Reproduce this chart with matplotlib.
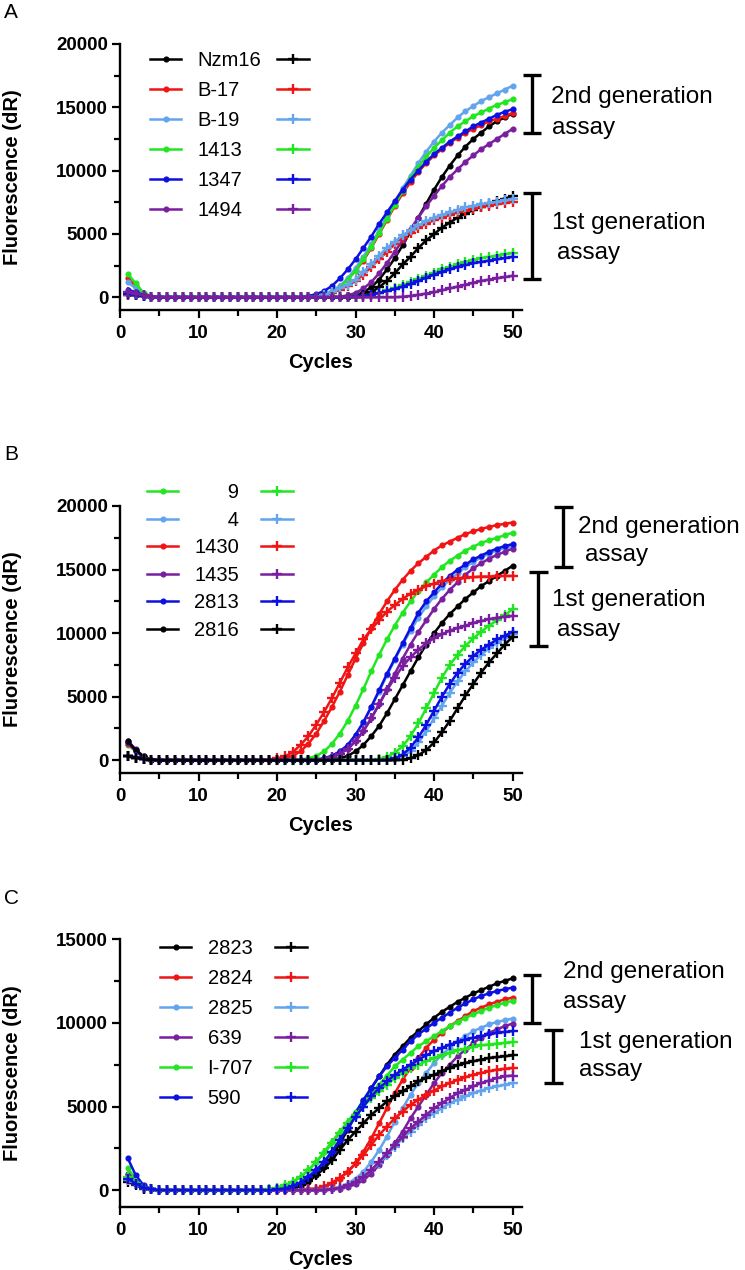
import matplotlib
matplotlib.use('Agg')
import matplotlib.pyplot as plt
from matplotlib.lines import Line2D

plt.rcParams['font.family'] = ['Liberation Sans', 'DejaVu Sans']

BLACK = '#000000'
RED = '#f01414'
LBLUE = '#62a4ee'
GREEN = '#22e622'
BLUE = '#0c10e0'
PURPLE = '#7a1ea0'

cycles = list(range(1, 51))

# ---------------- panel A ----------------
a_labels = ['Nzm16', 'B-17', 'B-19', '1413', '1347', '1494']
a_colors = [BLACK, RED, LBLUE, GREEN, BLUE, PURPLE]

# 2nd generation assay (dots)
a_nzm16_2nd = [300, 200, 100, 50, 0, 0, 0, 0, 0, 0,
               0, 0, 0, 0, 0, 0, 0, 0, 0, 0,
               0, 0, 0, 0, 0, 0, 0, 0, 50, 150,
               400, 800, 1400, 2200, 3100, 4100, 5200, 6300, 7400, 8500,
               9500, 10400, 11200, 11900, 12500, 13000, 13500, 13900, 14200, 14500]
a_b17_2nd = [1500, 900, 300, 50, 0, 0, 0, 0, 0, 0,
             0, 0, 0, 0, 0, 0, 0, 0, 0, 0,
             0, 0, 0, 0, 50, 150, 400, 800, 1400, 2100,
             2900, 3900, 5000, 6100, 7200, 8200, 9100, 9900, 10600, 11200,
             11700, 12200, 12600, 13000, 13300, 13600, 13900, 14100, 14300, 14550]
a_b19_2nd = [1200, 700, 250, 50, 0, 0, 0, 0, 0, 0,
             0, 0, 0, 0, 0, 0, 0, 0, 0, 0,
             0, 0, 0, 0, 100, 250, 500, 900, 1500, 2300,
             3200, 4200, 5300, 6400, 7500, 8600, 9600, 10600, 11500, 12300,
             13000, 13600, 14200, 14700, 15100, 15500, 15800, 16100, 16400, 16700]
a_1413_2nd = [1850, 1100, 350, 50, 0, 0, 0, 0, 0, 0,
              0, 0, 0, 0, 0, 0, 0, 0, 0, 0,
              0, 0, 0, 0, 50, 150, 400, 800, 1400, 2100,
              3000, 4000, 5100, 6200, 7300, 8400, 9400, 10300, 11100, 11800,
              12400, 13000, 13500, 13900, 14300, 14600, 14900, 15200, 15400, 15650]
a_1347_2nd = [600, 400, 200, 50, 0, 0, 0, 0, 0, 0,
              0, 0, 0, 0, 0, 0, 0, 0, 0, 0,
              0, 0, 0, 100, 250, 500, 900, 1500, 2200, 3000,
              3900, 4800, 5800, 6700, 7600, 8500, 9300, 10000, 10700, 11300,
              11800, 12300, 12700, 13100, 13500, 13800, 14100, 14400, 14650, 14850]
a_1494_2nd = [400, 250, 100, 50, 0, 0, 0, 0, 0, 0,
              0, 0, 0, 0, 0, 0, 0, 0, 0, 0,
              0, 0, 0, 0, 0, 0, 0, 50, 150, 350,
              700, 1200, 1900, 2700, 3600, 4500, 5400, 6300, 7200, 8000,
              8800, 9500, 10100, 10700, 11200, 11700, 12100, 12500, 12900, 13300]

# 1st generation assay (crosses)
a_nzm16_1st = [200, 150, 100, 50, 0, 0, 0, 0, 0, 0,
               0, 0, 0, 0, 0, 0, 0, 0, 0, 0,
               0, 0, 0, 0, 0, 0, 0, 0, 0, 50,
               150, 400, 800, 1300, 1900, 2600, 3200, 3900, 4500, 5000,
               5500, 5900, 6300, 6600, 6900, 7150, 7400, 7600, 7800, 8000]
a_b17_1st = [200, 150, 100, 50, 0, 0, 0, 0, 0, 0,
             0, 0, 0, 0, 0, 0, 0, 0, 0, 0,
             0, 0, 0, 0, 0, 150, 350, 600, 900, 1300,
             1800, 2400, 3000, 3600, 4200, 4700, 5100, 5500, 5800, 6100,
             6300, 6500, 6700, 6850, 7000, 7150, 7250, 7350, 7450, 7550]
a_b19_1st = [250, 150, 100, 50, 0, 0, 0, 0, 0, 0,
             0, 0, 0, 0, 0, 0, 0, 0, 0, 0,
             0, 0, 0, 0, 0, 200, 400, 700, 1000, 1400,
             2000, 2600, 3300, 3900, 4400, 4900, 5300, 5700, 6000, 6300,
             6500, 6700, 6900, 7100, 7200, 7350, 7450, 7550, 7650, 7750]
a_1413_1st = [300, 200, 100, 50, 0, 0, 0, 0, 0, 0,
              0, 0, 0, 0, 0, 0, 0, 0, 0, 0,
              0, 0, 0, 0, 0, 0, 0, 0, 0, 50,
              100, 200, 350, 550, 750, 950, 1200, 1450, 1700, 1950,
              2200, 2400, 2600, 2800, 2950, 3100, 3200, 3300, 3400, 3500]
a_1347_1st = [250, 150, 100, 50, 0, 0, 0, 0, 0, 0,
              0, 0, 0, 0, 0, 0, 0, 0, 0, 0,
              0, 0, 0, 0, 0, 0, 0, 0, 0, 50,
              100, 200, 350, 500, 650, 850, 1050, 1300, 1550, 1800,
              2000, 2200, 2400, 2550, 2700, 2800, 2900, 3000, 3100, 3200]
a_1494_1st = [400, 300, 150, 50, 0, 0, 0, 0, 0, 0,
              0, 0, 0, 0, 0, 0, 0, 0, 0, 0,
              0, 0, 0, 0, 0, 0, 0, 0, 0, 0,
              0, 0, 0, 0, 0, 50, 100, 200, 300, 400,
              550, 700, 850, 1000, 1150, 1300, 1400, 1500, 1600, 1700]

# ---------------- panel B ----------------
b_labels = ['      9', '      4', '1430', '1435', '2813', '2816']
b_colors = [GREEN, LBLUE, RED, PURPLE, BLUE, BLACK]

b_9_2nd = [1200, 700, 250, 50, 0, 0, 0, 0, 0, 0,
           0, 0, 0, 0, 0, 0, 0, 0, 0, 0,
           0, 0, 50, 150, 350, 700, 1300, 2100, 3100, 4300,
           5600, 7000, 8300, 9500, 10600, 11600, 12500, 13300, 14000, 14600,
           15200, 15700, 16100, 16500, 16800, 17100, 17300, 17500, 17700, 17900]
b_4_2nd = [1300, 750, 250, 50, 0, 0, 0, 0, 0, 0,
           0, 0, 0, 0, 0, 0, 0, 0, 0, 0,
           0, 0, 0, 0, 50, 150, 350, 700, 1200, 2000,
           3000, 4200, 5400, 6700, 7900, 9100, 10200, 11200, 12100, 12900,
           13600, 14200, 14700, 15200, 15600, 15950, 16250, 16500, 16700, 16850]
b_1430_2nd = [1300, 750, 250, 50, 0, 0, 0, 0, 0, 0,
              0, 0, 0, 0, 0, 0, 0, 0, 0, 50,
              150, 350, 700, 1300, 2100, 3100, 4200, 5400, 6700, 8000,
              9200, 10400, 11500, 12500, 13400, 14200, 14900, 15500, 16000, 16500,
              16900, 17200, 17500, 17800, 18000, 18200, 18350, 18500, 18600, 18700]
b_1435_2nd = [1550, 850, 300, 50, 0, 0, 0, 0, 0, 0,
              0, 0, 0, 0, 0, 0, 0, 0, 0, 0,
              0, 0, 0, 0, 50, 100, 250, 500, 900, 1500,
              2300, 3300, 4400, 5600, 6800, 8000, 9100, 10100, 11000, 11900,
              12700, 13400, 14000, 14600, 15100, 15500, 15850, 16150, 16400, 16650]
b_2813_2nd = [1400, 800, 250, 50, 0, 0, 0, 0, 0, 0,
              0, 0, 0, 0, 0, 0, 0, 0, 0, 0,
              0, 0, 0, 0, 50, 150, 350, 700, 1200, 2000,
              3000, 4200, 5500, 6800, 8000, 9200, 10400, 11600, 12500, 13200,
              13900, 14500, 15000, 15400, 15800, 16100, 16400, 16650, 16850, 17000]
b_2816_2nd = [1500, 800, 300, 50, 0, 0, 0, 0, 0, 0,
              0, 0, 0, 0, 0, 0, 0, 0, 0, 0,
              0, 0, 0, 0, 0, 0, 50, 150, 350, 700,
              1200, 1900, 2700, 3700, 4800, 5900, 7000, 8100, 9100, 10000,
              10800, 11500, 12100, 12700, 13200, 13700, 14100, 14500, 14900, 15300]

b_9_1st = [300, 200, 100, 50, 0, 0, 0, 0, 0, 0,
           0, 0, 0, 0, 0, 0, 0, 0, 0, 0,
           0, 0, 0, 0, 0, 0, 0, 0, 0, 0,
           0, 0, 100, 250, 600, 1100, 1900, 2900, 4100, 5300,
           6500, 7500, 8300, 9000, 9600, 10100, 10600, 11000, 11400, 11900]
b_4_1st = [300, 200, 100, 50, 0, 0, 0, 0, 0, 0,
           0, 0, 0, 0, 0, 0, 0, 0, 0, 0,
           0, 0, 0, 0, 0, 0, 0, 0, 0, 0,
           0, 0, 0, 0, 100, 300, 700, 1400, 2300, 3300,
           4300, 5300, 6200, 7000, 7700, 8300, 8800, 9200, 9600, 9900]
b_1430_1st = [300, 200, 100, 50, 0, 0, 0, 0, 0, 0,
              0, 0, 0, 0, 0, 0, 0, 0, 50, 150,
              300, 650, 1200, 1900, 2800, 3800, 4900, 6100, 7300, 8400,
              9500, 10300, 11000, 11700, 12200, 12700, 13100, 13400, 13700, 13900,
              14100, 14200, 14300, 14350, 14400, 14450, 14450, 14500, 14500, 14500]
b_1435_1st = [300, 200, 100, 50, 0, 0, 0, 0, 0, 0,
              0, 0, 0, 0, 0, 0, 0, 0, 0, 0,
              0, 0, 0, 0, 50, 100, 250, 500, 900, 1500,
              2300, 3300, 4400, 5500, 6500, 7400, 8100, 8700, 9200, 9600,
              9900, 10200, 10400, 10600, 10800, 10950, 11100, 11200, 11300, 11350]
b_2813_1st = [350, 250, 100, 50, 0, 0, 0, 0, 0, 0,
              0, 0, 0, 0, 0, 0, 0, 0, 0, 0,
              0, 0, 0, 0, 0, 0, 0, 0, 0, 0,
              0, 0, 0, 50, 150, 450, 1000, 1800, 2800, 3900,
              5000, 6000, 6900, 7600, 8200, 8700, 9100, 9500, 9800, 10100]
b_2816_1st = [300, 200, 100, 50, 0, 0, 0, 0, 0, 0,
              0, 0, 0, 0, 0, 0, 0, 0, 0, 0,
              0, 0, 0, 0, 0, 0, 0, 0, 0, 0,
              0, 0, 0, 0, 0, 50, 150, 400, 800, 1400,
              2200, 3100, 4100, 5100, 6000, 6900, 7700, 8400, 9100, 9700]

# ---------------- panel C ----------------
c_labels = ['2823', '2824', '2825', '639', 'I-707', '590']
c_colors = [BLACK, RED, LBLUE, PURPLE, GREEN, BLUE]

c_2823_2nd = [700, 400, 150, 50, 0, 0, 0, 0, 0, 0,
              0, 0, 0, 0, 0, 0, 0, 0, 0, 0,
              50, 100, 250, 500, 900, 1400, 2000, 2800, 3600, 4500,
              5300, 6100, 6800, 7500, 8100, 8600, 9100, 9500, 9900, 10300,
              10650, 10950, 11250, 11500, 11750, 11950, 12150, 12350, 12500, 12650]
c_2824_2nd = [900, 500, 200, 50, 0, 0, 0, 0, 0, 0,
              0, 0, 0, 0, 0, 0, 0, 0, 0, 0,
              0, 0, 0, 50, 100, 200, 400, 700, 1100, 1600,
              2300, 3100, 4000, 4900, 5800, 6600, 7300, 7900, 8500, 9000,
              9400, 9800, 10100, 10400, 10700, 10900, 11100, 11250, 11400, 11500]
c_2825_2nd = [1000, 550, 200, 50, 0, 0, 0, 0, 0, 0,
              0, 0, 0, 0, 0, 0, 0, 0, 0, 0,
              0, 0, 0, 0, 0, 50, 100, 200, 400, 700,
              1100, 1700, 2400, 3200, 4100, 4900, 5700, 6400, 7000, 7600,
              8100, 8500, 8900, 9200, 9500, 9700, 9900, 10050, 10150, 10250]
c_639_2nd = [1000, 600, 200, 50, 0, 0, 0, 0, 0, 0,
             0, 0, 0, 0, 0, 0, 0, 0, 0, 0,
             0, 0, 0, 0, 0, 0, 50, 100, 200, 350,
             600, 1000, 1500, 2100, 2800, 3500, 4300, 5000, 5700, 6400,
             7000, 7500, 8000, 8400, 8800, 9100, 9400, 9600, 9800, 9950]
c_i707_2nd = [1300, 700, 250, 50, 0, 0, 0, 0, 0, 0,
              0, 0, 0, 0, 0, 0, 0, 0, 50, 150,
              300, 500, 800, 1200, 1700, 2300, 2900, 3500, 4100, 4700,
              5300, 5800, 6300, 6850, 7400, 7800, 8200, 8600, 8900, 9200,
              9500, 9800, 10050, 10300, 10500, 10700, 10900, 11050, 11200, 11300]
c_590_2nd = [1900, 900, 300, 50, 0, 0, 0, 0, 0, 0,
             0, 0, 0, 0, 0, 0, 0, 0, 0, 50,
             100, 250, 450, 800, 1200, 1700, 2300, 3000, 3800, 4600,
             5400, 6100, 6800, 7400, 7900, 8400, 8900, 9300, 9650, 10000,
             10300, 10600, 10900, 11150, 11400, 11600, 11750, 11900, 12000, 12100]

c_2823_1st = [500, 300, 100, 50, 0, 0, 0, 0, 0, 0,
              0, 0, 0, 0, 0, 0, 0, 0, 0, 0,
              50, 150, 300, 550, 900, 1300, 1800, 2400, 3000, 3500,
              4000, 4500, 4900, 5300, 5600, 5900, 6200, 6500, 6700, 6900,
              7100, 7300, 7450, 7600, 7700, 7800, 7900, 7950, 8000, 8050]
c_2824_1st = [600, 350, 150, 50, 0, 0, 0, 0, 0, 0,
              0, 0, 0, 0, 0, 0, 0, 0, 0, 0,
              0, 0, 0, 50, 100, 250, 450, 750, 1100, 1600,
              2100, 2700, 3300, 3800, 4300, 4700, 5100, 5400, 5700, 5950,
              6200, 6400, 6600, 6750, 6900, 7000, 7100, 7200, 7250, 7300]
c_2825_1st = [600, 350, 150, 50, 0, 0, 0, 0, 0, 0,
              0, 0, 0, 0, 0, 0, 0, 0, 0, 0,
              0, 0, 0, 0, 0, 0, 50, 150, 300, 500,
              800, 1200, 1600, 2100, 2600, 3100, 3500, 3900, 4300, 4600,
              4900, 5200, 5400, 5600, 5800, 5950, 6100, 6200, 6300, 6400]
c_639_1st = [700, 400, 150, 50, 0, 0, 0, 0, 0, 0,
             0, 0, 0, 0, 0, 0, 0, 0, 0, 0,
             0, 0, 0, 0, 0, 0, 50, 150, 300, 500,
             800, 1200, 1700, 2200, 2700, 3200, 3700, 4100, 4500, 4900,
             5200, 5500, 5800, 6000, 6200, 6400, 6550, 6700, 6800, 6850]
c_i707_1st = [800, 450, 150, 50, 0, 0, 0, 0, 0, 0,
              0, 0, 0, 0, 0, 0, 0, 0, 50, 150,
              300, 500, 800, 1200, 1700, 2200, 2800, 3400, 4000, 4500,
              5000, 5500, 5900, 6300, 6700, 7000, 7300, 7500, 7700, 7900,
              8050, 8200, 8350, 8450, 8550, 8650, 8700, 8750, 8800, 8850]
c_590_1st = [700, 400, 150, 50, 0, 0, 0, 0, 0, 0,
             0, 0, 0, 0, 0, 0, 0, 0, 0, 50,
             100, 250, 450, 800, 1200, 1700, 2300, 3000, 3700, 4400,
             5000, 5600, 6100, 6500, 6900, 7200, 7500, 7800, 8050, 8300,
             8500, 8700, 8850, 9000, 9100, 9200, 9300, 9400, 9450, 9500]

W, H = 745, 1270


def px(x, y):
    """pixel position (top-left origin) -> figure fraction"""
    return x / W, 1 - y / H


def draw_panel(ax, labels, colors, second, first, ymax, leg_xy, colspace, labspace):
    dots, plus = [], []
    for vals, c in zip(second, colors):
        l, = ax.plot(cycles, vals, color=c, lw=1.8, marker='o', ms=3.4,
                     mec=c, mfc=c, clip_on=False)
        dots.append(l)
    for vals, c in zip(first, colors):
        l, = ax.plot(cycles, vals, color=c, lw=1.8, marker='+', ms=7.5,
                     mew=1.7, clip_on=False)
        plus.append(l)

    ax.set_xlim(0, 51.2)
    ax.set_ylim(-1000, ymax)
    ax.set_xticks([0, 10, 20, 30, 40, 50])
    ax.set_xticks([5, 15, 25, 35, 45], minor=True)
    ax.set_yticks(list(range(0, ymax + 1, 5000)))
    ax.set_yticks(list(range(2500, ymax, 5000)), minor=True)
    for s in ['top', 'right']:
        ax.spines[s].set_visible(False)
    for s in ['left', 'bottom']:
        ax.spines[s].set_linewidth(1.7)
    ax.spines['left'].set_bounds(-1000, ymax)
    ax.tick_params(which='major', direction='out', length=5.5, width=1.6,
                   labelsize=13.5, pad=3)
    ax.tick_params(which='minor', direction='out', length=4, width=1.6)
    ax.tick_params(axis='x', which='major', pad=5)
    for t in ax.get_xticklabels() + ax.get_yticklabels():
        t.set_fontweight('bold')
    ax.set_xlabel('Cycles', fontsize=14.5, fontweight='bold')
    ax.set_ylabel('Fluorescence (dR)', fontsize=14.5, fontweight='bold')
    ax.xaxis.set_label_coords(0.5, -0.16)
    ax.yaxis.set_label_coords(-0.245, 0.5)

    ax.legend(dots + plus, labels + [''] * len(labels), ncol=2,
              loc='upper left', bbox_to_anchor=leg_xy, frameon=False,
              fontsize=14.5, handlelength=1.55, handletextpad=0.8,
              columnspacing=colspace, labelspacing=labspace,
              borderpad=0, borderaxespad=0, numpoints=1)


def bracket(x, y0, y1, half):
    for xs, ys in [((x, x), (y0, y1)), ((x - half, x + half), (y0, y0)),
                   ((x - half, x + half), (y1, y1))]:
        p0 = px(xs[0], ys[0])
        p1 = px(xs[1], ys[1])
        fig.add_artist(Line2D([p0[0], p1[0]], [p0[1], p1[1]], color='black',
                              lw=2.4, solid_capstyle='butt',
                              transform=fig.transFigure))


def note(x, y, s):
    fx, fy = px(x, y)
    fig.text(fx, fy, s, fontsize=17.5, ha='left', va='center')


fig = plt.figure(figsize=(W / 100, H / 100), dpi=100)

ax_a = fig.add_axes([120 / W, 1 - 310 / H, 402 / W, 266 / H])
ax_b = fig.add_axes([120 / W, 1 - 773 / H, 402 / W, 267 / H])
ax_c = fig.add_axes([120 / W, 1 - 1207 / H, 402 / W, 268 / H])

draw_panel(ax_a, a_labels, a_colors,
           [a_nzm16_2nd, a_b17_2nd, a_b19_2nd, a_1413_2nd, a_1347_2nd, a_1494_2nd],
           [a_nzm16_1st, a_b17_1st, a_b19_1st, a_1413_1st, a_1347_1st, a_1494_1st],
           20000, (0.075, 0.975), 0.8, 0.55)
draw_panel(ax_b, b_labels, b_colors,
           [b_9_2nd, b_4_2nd, b_1430_2nd, b_1435_2nd, b_2813_2nd, b_2816_2nd],
           [b_9_1st, b_4_1st, b_1430_1st, b_1435_1st, b_2813_1st, b_2816_1st],
           20000, (0.067, 1.085), 1.1, 0.42)
draw_panel(ax_c, c_labels, c_colors,
           [c_2823_2nd, c_2824_2nd, c_2825_2nd, c_639_2nd, c_i707_2nd, c_590_2nd],
           [c_2823_1st, c_2824_1st, c_2825_1st, c_639_1st, c_i707_1st, c_590_1st],
           15000, (0.1, 1.0), 1.1, 0.55)

# panel letters
for letter, y in [('A', 13), ('B', 455), ('C', 899)]:
    fx, fy = px(4, y)
    fig.text(fx, fy, letter, fontsize=15, ha='left', va='center')

# assay brackets and notes
bracket(532, 75, 133, 9)
bracket(532, 193, 279, 9)
note(551, 97, '2nd generation')
note(552, 128, 'assay')
note(552, 223, '1st generation')
note(557, 253, 'assay')

bracket(563, 507, 567, 9.5)
bracket(538, 572, 646, 9.5)
note(578, 527, '2nd generation')
note(585, 555, 'assay')
note(552, 600, '1st generation')
note(557, 630, 'assay')

bracket(532, 975, 1023, 9)
bracket(553, 1030, 1083, 9.5)
note(563, 972, '2nd generation')
note(563, 1002, 'assay')
note(579, 1042, '1st generation')
note(579, 1070, 'assay')

fig.savefig('out.png', dpi=100)
